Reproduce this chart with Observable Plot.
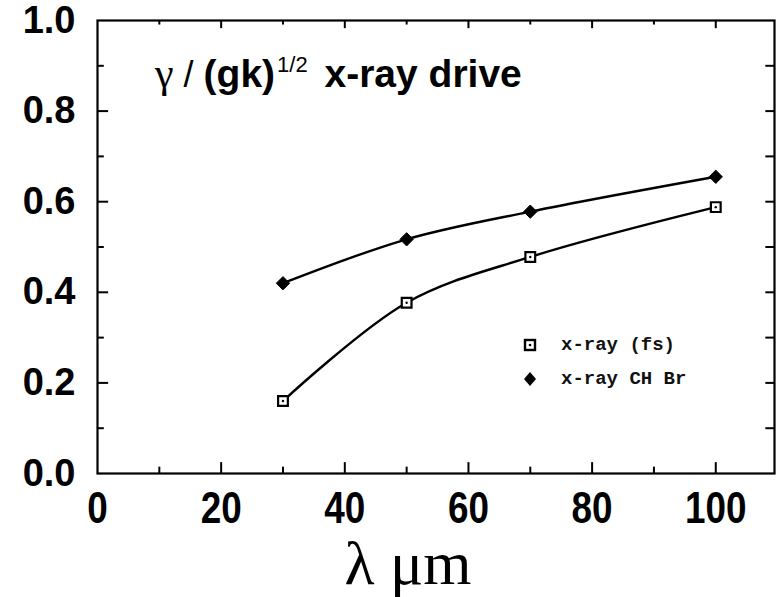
<!DOCTYPE html>
<html>
<head>
<meta charset="utf-8">
<script src="https://cdn.jsdelivr.net/npm/d3@7"></script>
<script src="https://cdn.jsdelivr.net/npm/@observablehq/plot@0.6"></script>
<style>
  html, body { margin: 0; padding: 0; background: #fff; }
  #wrap { position: relative; width: 776px; height: 597px; overflow: hidden; }
  #title { position: absolute; left: 155px; top: 48px; font-family: "Liberation Sans", Arial, sans-serif; font-weight: bold; font-size: 39px; line-height: 50px; color: #000; white-space: nowrap; }
  #title .g { font-family: "Liberation Serif", "DejaVu Serif", serif; font-weight: normal; font-size: 42px; }
  #title .sl { font-weight: normal; font-size: 36px; }
  #title sup { font-size: 22px; font-weight: normal; vertical-align: 15px; margin-left: 2px; margin-right: 6px; line-height: 0; }
  #legend { position: absolute; left: 522px; top: 328px; font-family: "Liberation Mono", "DejaVu Sans Mono", monospace; font-size: 19px; font-weight: bold; color: #111; }
  #legend .row { display: flex; align-items: center; height: 34px; }
  #legend svg { margin-right: 23px; }
  #xlabel { position: absolute; left: 8px; top: 532px; width: 800px; text-align: center; font-family: "Liberation Serif", "DejaVu Serif", serif; font-size: 62px; line-height: 62px; color: #000; }
</style>
</head>
<body>
<div id="wrap"></div>
<script>
// Data
const lambda = [30, 50, 70, 100];
const fsValues = [0.16, 0.377, 0.478, 0.588];
const chbrValues = [0.42, 0.517, 0.578, 0.655];
const seriesNames = ["x-ray (fs)", "x-ray CH Br"];

const xTickLabels = [0, 20, 40, 60, 80, 100];
const yTickLabels = [0.0, 0.2, 0.4, 0.6, 0.8, 1.0];
const xMajorTicks = [20, 40, 60, 80, 100];
const xMinorTicks = [10, 30, 50, 70, 90];
const yMajorTicks = [0.2, 0.4, 0.6, 0.8];
const yMinorTicks = [0.1, 0.3, 0.5, 0.7, 0.9];
const yAllTicks = [0.1, 0.2, 0.3, 0.4, 0.5, 0.6, 0.7, 0.8, 0.9];

const fs = lambda.map((x, i) => ({x, y: fsValues[i], s: seriesNames[0]}));
const chbr = lambda.map((x, i) => ({x, y: chbrValues[i], s: seriesNames[1]}));

const X0 = 0, X1 = 109.5, Y0 = 0, Y1 = 1;

const chart = Plot.plot({
  width: 776,
  height: 532,
  marginLeft: 97,
  marginRight: 2,
  marginTop: 20,
  marginBottom: 59,
  style: { fontFamily: "Liberation Sans, Arial, sans-serif", background: "#fff", color: "#000" },
  x: { domain: [X0, X1], ticks: xTickLabels, tickFormat: d => String(d) },
  y: { domain: [Y0, Y1], ticks: yTickLabels, tickFormat: d3.format(".1f") },
  marks: [
    Plot.frame({ stroke: "#000", strokeWidth: 2.2 }),
    // inward ticks - bottom
    Plot.ruleX(xMajorTicks, { x: d => d, y1: Y0, y2: 0.024, stroke: "#000", strokeWidth: 2 }),
    Plot.ruleX(xMinorTicks, { x: d => d, y1: Y0, y2: 0.014, stroke: "#000", strokeWidth: 2 }),
    // inward ticks - top
    Plot.ruleX(xMajorTicks, { x: d => d, y1: Y1, y2: 0.982, stroke: "#000", strokeWidth: 2 }),
    Plot.ruleX(xMinorTicks, { x: d => d, y1: Y1, y2: 0.99, stroke: "#000", strokeWidth: 2 }),
    // inward ticks - left
    Plot.ruleY(yMajorTicks, { y: d => d, x1: X0, x2: 1.8, stroke: "#000", strokeWidth: 2 }),
    Plot.ruleY(yMinorTicks, { y: d => d, x1: X0, x2: 1.1, stroke: "#000", strokeWidth: 2 }),
    // inward ticks - right
    Plot.ruleY(yAllTicks, { y: d => d, x1: X1, x2: X1 - 1.4, stroke: "#000", strokeWidth: 2 }),
    Plot.axisX({ ticks: xTickLabels, tickSize: 0, tickPadding: 18, fontSize: 45, fontWeight: "bold", label: null, className: "xax" }),
    Plot.axisY({ ticks: yTickLabels, tickSize: 0, tickPadding: 22, fontSize: 38, fontWeight: "bold", label: null, tickFormat: d3.format(".1f") }),
    Plot.line(fs, { x: "x", y: "y", curve: "catmull-rom", stroke: "#000", strokeWidth: 2.4 }),
    Plot.line(chbr, { x: "x", y: "y", curve: "catmull-rom", stroke: "#000", strokeWidth: 2.4 }),
    Plot.dot(fs, { x: "x", y: "y", symbol: "square", r: 5.5, fill: "#fff", stroke: "#000", strokeWidth: 2.2 }),
    Plot.dot(fs, { x: "x", y: "y", r: 1.2, fill: "#000" }),
    Plot.dot(chbr, { x: "x", y: "y", symbol: "diamond2", r: 6, fill: "#000", stroke: "#000", strokeWidth: 1 })
  ]
});

// condense the x tick labels horizontally, like the reference's tall narrow digits
d3.select(chart).selectAll("g.xax text").each(function () {
  const t = this.getAttribute("transform") || "";
  this.setAttribute("transform", t + " scale(0.82,1)");
});

const wrap = document.getElementById("wrap");
wrap.appendChild(chart);

const title = document.createElement("div");
title.id = "title";
title.innerHTML = '<span class="g">γ</span><span class="sl"> / </span>(gk)<sup>1/2</sup> x-ray drive';
wrap.appendChild(title);

const legend = document.createElement("div");
legend.id = "legend";
legend.innerHTML =
  '<div class="row"><svg width="16" height="16" viewBox="0 0 16 16"><rect x="3" y="3" width="10" height="10" fill="#fff" stroke="#000" stroke-width="2.4"/><circle cx="8" cy="8" r="1.3" fill="#000"/></svg><span>' + seriesNames[0] + '</span></div>' +
  '<div class="row"><svg width="16" height="16" viewBox="0 0 16 16"><path d="M8 1 L14 8 L8 15 L2 8 Z" fill="#000"/></svg><span>' + seriesNames[1] + '</span></div>';
wrap.appendChild(legend);

const xl = document.createElement("div");
xl.id = "xlabel";
xl.textContent = "λ μm";
wrap.appendChild(xl);
</script>
</body>
</html>
